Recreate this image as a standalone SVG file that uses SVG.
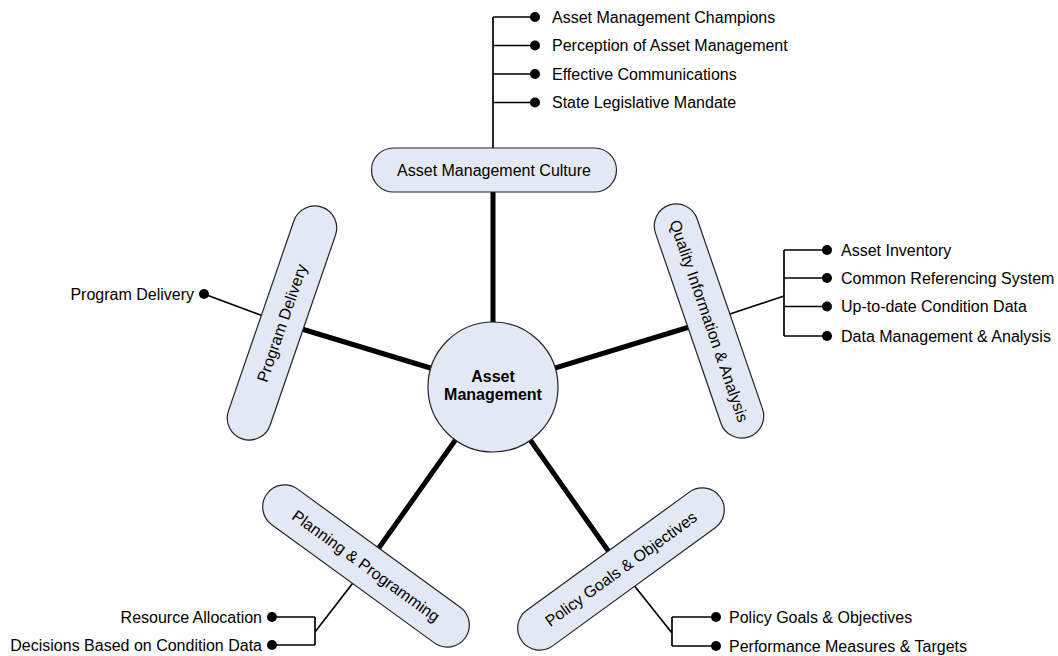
<svg xmlns="http://www.w3.org/2000/svg" width="1058" height="656" viewBox="0 0 1058 656">
<style>
text{font-family:"Liberation Sans",Arial,sans-serif;font-size:16px;fill:#000}
.pill{fill:#e3e9f4;stroke:#222;stroke-width:1.2}
.thick{stroke:#000;stroke-width:5;fill:none}
.thin{stroke:#000;stroke-width:1.7;fill:none}
.dot{fill:#000}
.c{text-anchor:middle}
.e{text-anchor:end}
</style>
<rect width="1058" height="656" fill="#fff"/>
<g id="connectors">
<path class="thick" d="M493,387 L493,170 M493,387 L709,321 M493,387 L282,323 M493,387 L366,566 M493,387 L621,569"/>
<path class="thin" d="M493,170 L493,17 M493,17 H533 M493,45.5 H533 M493,74 H533 M493,102.5 H533"/>
<path class="thin" d="M709,321 L784,296 M784,250 V336 M784,250 H826 M784,278 H826 M784,306.5 H826 M784,336 H826"/>
<path class="thin" d="M282,323 L204,294"/>
<path class="thin" d="M366,566 L315,632 M315,617 V645 M315,617 H272 M315,645 H272"/>
<path class="thin" d="M621,569 L672,633 M672,617 V646 M672,617 H716 M672,646 H716"/>
<g class="dot">
<circle cx="535" cy="17" r="5"/><circle cx="535" cy="45.5" r="5"/><circle cx="535" cy="74" r="5"/><circle cx="535" cy="102.5" r="5"/>
<circle cx="827" cy="250" r="5"/><circle cx="827" cy="278" r="5"/><circle cx="827" cy="306.5" r="5"/><circle cx="827" cy="336" r="5"/>
<circle cx="204" cy="294" r="5"/>
<circle cx="272" cy="617" r="5"/><circle cx="272" cy="645" r="5"/>
<circle cx="716" cy="617" r="5"/><circle cx="716" cy="646" r="5"/>
</g>
</g>
<g id="list-culture">
<text x="552" y="22.5">Asset Management Champions</text>
<text x="552" y="51">Perception of Asset Management</text>
<text x="552" y="79.5">Effective Communications</text>
<text x="552" y="108">State Legislative Mandate</text>
</g>
<g id="list-quality">
<text x="841" y="255.5">Asset Inventory</text>
<text x="841" y="283.5">Common Referencing System</text>
<text x="841" y="312">Up-to-date Condition Data</text>
<text x="841" y="341.5">Data Management &amp; Analysis</text>
</g>
<g id="list-program">
<text class="e" x="194" y="299.5">Program Delivery</text>
</g>
<g id="list-planning">
<text class="e" x="262" y="622.5">Resource Allocation</text>
<text class="e" x="262" y="650.5">Decisions Based on Condition Data</text>
</g>
<g id="list-policy">
<text x="729" y="622.5">Policy Goals &amp; Objectives</text>
<text x="729" y="651.5">Performance Measures &amp; Targets</text>
</g>
<g id="node-culture" transform="translate(494,170)">
<rect class="pill" x="-122.5" y="-22" width="245" height="44" rx="22"/>
<text class="c" x="0" y="5.5">Asset Management Culture</text>
</g>
<g id="node-quality" transform="translate(709,321) rotate(71)">
<rect class="pill" x="-122.5" y="-22" width="245" height="44" rx="22"/>
<text class="c" x="0" y="5.5">Quality Information &amp; Analysis</text>
</g>
<g id="node-program" transform="translate(282,323) rotate(-71)">
<rect class="pill" x="-122.5" y="-22" width="245" height="44" rx="22"/>
<text class="c" x="0" y="5.5">Program Delivery</text>
</g>
<g id="node-planning" transform="translate(366,566) rotate(36)">
<rect class="pill" x="-122.5" y="-22" width="245" height="44" rx="22"/>
<text class="c" x="0" y="5.5">Planning &amp; Programming</text>
</g>
<g id="node-policy" transform="translate(621,569) rotate(-36)">
<rect class="pill" x="-122.5" y="-22" width="245" height="44" rx="22"/>
<text class="c" x="0" y="5.5">Policy Goals &amp; Objectives</text>
</g>
<g id="node-center">
<circle class="pill" cx="493" cy="387" r="65"/>
<text class="c" x="493" y="382" font-weight="bold">Asset</text>
<text class="c" x="493" y="400" font-weight="bold">Management</text>
</g>
</svg>
